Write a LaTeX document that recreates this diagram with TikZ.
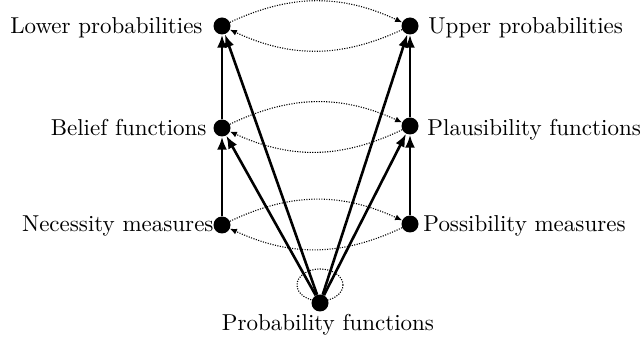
\documentclass[tikz,border=0pt]{standalone}
\usetikzlibrary{arrows.meta}
\begin{document}
\begin{tikzpicture}[x=1pt,y=1pt,
  dotnode/.style={circle,fill=black,inner sep=0pt,minimum size=17pt},
  lbl/.style={inner sep=0pt,scale=2.3,transform shape},
  solidarrow/.style={line width=2.6pt,-{Latex[length=13pt,width=10pt]}},
  dotarrow/.style={line width=1.1pt,dash pattern=on 1.1pt off 1.4pt,-{Latex[length=7pt,width=6pt]}}]
\useasboundingbox (0,0) rectangle (643,343);
% loop at bottom
\draw[line width=1.1pt,dash pattern=on 1.1pt off 1.4pt] (320,58) ellipse (23 and 16);
% dots
\node[dotnode] (lp) at (222,317) {};
\node[dotnode] (bf) at (222,215) {};
\node[dotnode] (nm) at (222,118) {};
\node[dotnode] (up) at (410,317) {};
\node[dotnode] (pf) at (410,217) {};
\node[dotnode] (pm) at (410,119) {};
\node[dotnode] (pr) at (320,40) {};
% labels
\node[lbl,anchor=base east] (lpl) at (203,309) {Lower probabilities};
\node[lbl,anchor=base east] (bfl) at (207,207) {Belief functions};
\node[lbl,anchor=base east] (nml) at (214,111) {Necessity measures};
\node[lbl,anchor=base west] (upl) at (428,309) {Upper probabilities};
\node[lbl,anchor=base west] (pfl) at (427,207) {Plausibility functions};
\node[lbl,anchor=base west] (pml) at (423,111) {Possibility measures};
\node[lbl,anchor=base] (prl) at (328,13) {Probability functions};
% vertical arrows
\draw[solidarrow] (nm) -- (bf);
\draw[solidarrow] (bf) -- (lp);
\draw[solidarrow] (pm) -- (pf);
\draw[solidarrow] (pf) -- (up);
% diagonal arrows
\draw[solidarrow] (pr) -- (lp);
\draw[solidarrow] (pr) -- (bf);
\draw[solidarrow] (pr) -- (up);
\draw[solidarrow] (pr) -- (pf);
% dotted curved arrows
\draw[dotarrow] (lp) to[bend left=25] (up);
\draw[dotarrow] (up) to[bend left=25] (lp);
\draw[dotarrow] (bf) to[bend left=25] (pf);
\draw[dotarrow] (pf) to[bend left=25] (bf);
\draw[dotarrow] (nm) to[bend left=25] (pm);
\draw[dotarrow] (pm) to[bend left=25] (nm);
\end{tikzpicture}
\end{document}
